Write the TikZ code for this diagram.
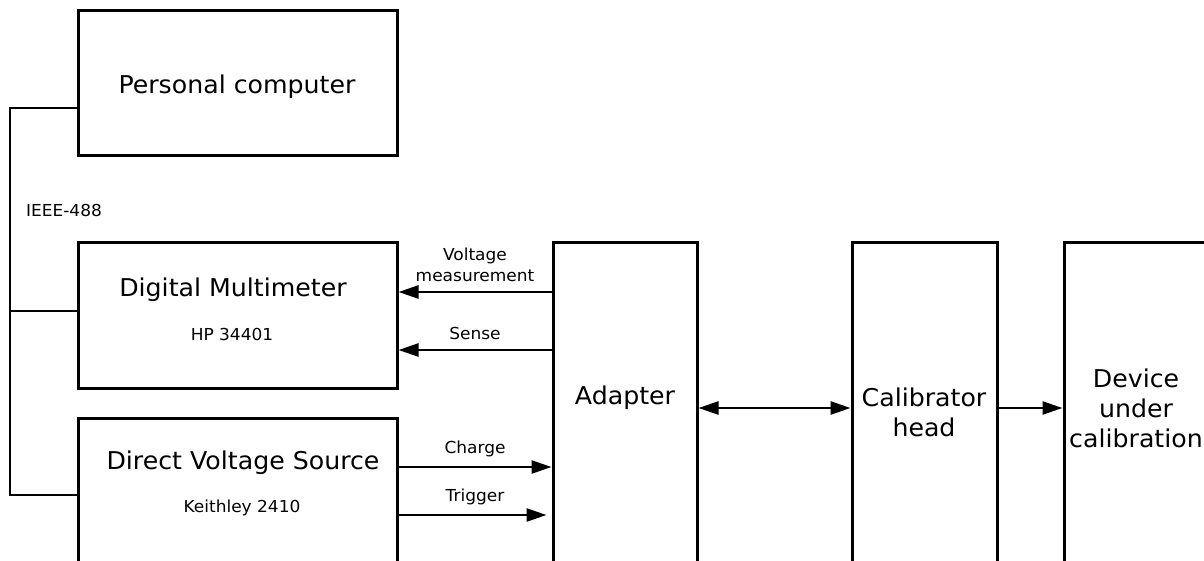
\documentclass[tikz,border=0pt]{standalone}
\usepackage{fontspec}
\setmainfont{DejaVu Sans}[FakeStretch=1.03]
\usetikzlibrary{arrows.meta}
\begin{document}
\begin{tikzpicture}[x=1pt,y=-1pt,
  box/.style={draw,line width=3pt,rectangle,inner sep=0pt},
  big/.style={font=\fontsize{24.5}{30}\selectfont,align=center,inner sep=0pt},
  small/.style={font=\fontsize{16.5}{20}\selectfont,align=center,inner sep=0pt},
  bus/.style={line width=1.2pt},
  arr/.style={line width=2.6pt,-{Triangle[length=20pt,width=13pt]}},
  darr/.style={line width=2.6pt,{Triangle[length=20pt,width=13pt]}-{Triangle[length=20pt,width=13pt]}}]
\useasboundingbox (0,0) rectangle (1204,561);
\clip (0,0) rectangle (1204,561);
% boxes
\node[box,minimum width=319pt,minimum height=145pt] (pc) at (237.5,83.5) {};
\node[box,minimum width=319pt,minimum height=145pt] (dmm) at (237.5,315.5) {};
\node[box,minimum width=319pt,minimum height=160pt] (dvs) at (237.5,498) {};
\node[box,minimum width=144pt,minimum height=340pt] (adp) at (625,413) {};
\node[box,minimum width=145pt,minimum height=340pt] (cal) at (924.5,413) {};
\node[box,minimum width=150pt,minimum height=340pt] (dut) at (1139,413) {};
% texts
\node[big] (tpc) at (237,87) {Personal computer};
\node[big] (tdmm) at (233,290) {Digital Multimeter};
\node[small] (sdmm) at (232,334) {HP 34401};
\node[big] (tdvs) at (243,463) {Direct Voltage Source};
\node[small] (sdvs) at (242,508) {Keithley 2410};
\node[big] (tadp) at (625,398) {Adapter};
\node[big] (tcal) at (924,412) {Calibrator\\head};
\node[big] (tdut) at (1136,408) {Device\\under\\calibration};
\node[small] (tieee) at (64,210) {IEEE-488};
% bus
\coordinate (b1) at (10,108);
\coordinate (b2) at (10,311);
\coordinate (b3) at (10,495);
\draw[bus] (pc.west |- b1) -- (b1) -- (b3) -- (dvs.west |- b3);
\draw[bus] (b2) -- (dmm.west |- b2);
% arrows
\coordinate (yv) at (0,292);
\coordinate (ys) at (0,350);
\coordinate (yc) at (0,467);
\coordinate (yt) at (0,515);
\coordinate (ym) at (0,408);
\draw[arr] (adp.west |- yv) -- (dmm.east |- yv);
\draw[arr] (adp.west |- ys) -- (dmm.east |- ys);
\draw[arr] (dvs.east |- yc) -- (adp.west |- yc);
\draw[arr,shorten >=5pt] (dvs.east |- yt) -- (adp.west |- yt);
\draw[darr] (adp.east |- ym) -- (cal.west |- ym);
\draw[arr] (cal.east |- ym) -- (dut.west |- ym);
% arrow labels
\node[small] (lv1) at (475,256) {Voltage};
\node[small] (lv2) at (475,276) {measurement};
\node[small] (ls) at (475,333) {Sense};
\node[small] (lc) at (475,449) {Charge};
\node[small] (lt) at (475,497) {Trigger};
\end{tikzpicture}
\end{document}
